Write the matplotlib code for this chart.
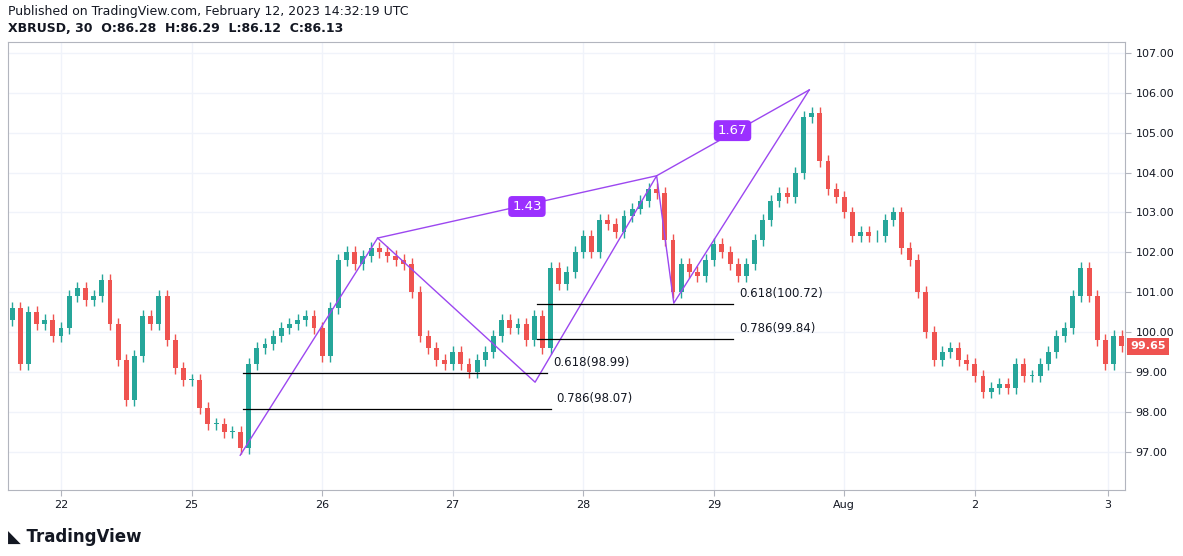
import numpy as np
import matplotlib.pyplot as plt
from matplotlib.patches import Rectangle

# hourly-ish closes (16 candles per trading day)
closes = [100.6, 99.2, 100.5, 100.2, 100.3, 99.9, 100.1, 100.9, 101.1, 100.8,
          100.9, 101.3, 100.2, 99.3, 98.3, 99.4, 100.4, 100.2, 100.9, 99.8,
          99.1, 98.8, 98.8, 98.1, 97.7, 97.7, 97.5, 97.5, 97.1, 99.2,
          99.6, 99.7, 99.9, 100.1, 100.2, 100.3, 100.4, 100.1, 99.4, 100.6,
          101.8, 102.0, 101.7, 101.9, 102.1, 102.0, 101.9, 101.8, 101.7, 101.0,
          99.9, 99.6, 99.3, 99.2, 99.5, 99.2, 99.0, 99.3, 99.5, 99.9,
          100.3, 100.1, 100.2, 99.8, 100.4, 99.6, 101.6, 101.2, 101.5, 102.0,
          102.4, 102.0, 102.8, 102.7, 102.5, 102.9, 103.1, 103.3, 103.6, 103.5,
          102.3, 101.0, 101.7, 101.5, 101.4, 101.8, 102.2, 102.0, 101.7, 101.4,
          101.7, 102.3, 102.8, 103.3, 103.5, 103.4, 104.0, 105.4, 105.5, 104.3,
          103.6, 103.4, 103.0, 102.4, 102.5, 102.4, 102.4, 102.8, 103.0, 102.1,
          101.8, 101.0, 100.0, 99.3, 99.5, 99.6, 99.3, 99.2, 98.9, 98.5,
          98.6, 98.7, 98.6, 99.2, 98.9, 98.9, 99.2, 99.5, 99.9, 100.1,
          100.9, 101.6, 100.9, 99.8, 99.2, 99.9, 99.65]
first_open = 100.3
wick = 0.15

day_labels = ['22', '25', '26', '27', '28', '29', 'Aug', '2', '3']
day_ticks = [6, 22, 38, 54, 70, 86, 102, 118, 134.3]
price_ticks = [97, 98, 99, 100, 101, 102, 103, 104, 105, 106, 107]

# harmonic pattern points (candle index, price)
pat_x = [27.96, 44.8, 64.1, 79.0, 81.1, 97.7]
pat_y = [96.92, 102.36, 98.75, 103.92, 100.73, 106.07]
ratio_labels = [(63.1, 103.15, '1.43'), (88.3, 105.05, '1.67')]

# fib levels: (x start, x end, price, label)
fibs = [(28.3, 65.6, 98.99, '0.618(98.99)'),
        (28.3, 66.0, 98.07, '0.786(98.07)'),
        (64.3, 88.4, 100.72, '0.618(100.72)'),
        (64.3, 88.4, 99.84, '0.786(99.84)')]

UP, DOWN = '#26a69a', '#ef5350'
PURPLE = '#9c47f0'

fig = plt.figure(figsize=(11.83, 5.56), dpi=100)
ax = fig.add_axes([8 / 1183, 1 - 490 / 556, (1125 - 8) / 1183, (490 - 42) / 556])

opens = [first_open] + closes[:-1]
for i, (o, c) in enumerate(zip(opens, closes)):
    col = UP if c >= o else DOWN
    ax.vlines(i, min(o, c) - wick, max(o, c) + wick, color=col, lw=1, zorder=2)
    ax.add_patch(Rectangle((i - 0.3, min(o, c)), 0.6, max(abs(c - o), 0.02),
                           color=col, zorder=3, lw=0))

ax.plot(pat_x, pat_y, color=PURPLE, lw=1, zorder=4)
ax.plot([pat_x[1], pat_x[3], pat_x[5]], [pat_y[1], pat_y[3], pat_y[5]],
        color=PURPLE, lw=1, zorder=4)
for x, y, t in ratio_labels:
    ax.text(x, y, t, color='white', fontsize=9.5, ha='center', va='center', zorder=6,
            bbox=dict(boxstyle='round,pad=0.3', fc='#9b30ff', ec='none'))

for x0, x1, p, t in fibs:
    ax.plot([x0, x1], [p, p], color='black', lw=0.9, zorder=4)
    ax.text(x1 + 0.7, p + 0.1, t, fontsize=8.5, color='#131722', va='bottom', ha='left')

ax.set_xlim(-0.5, 136.4)
ax.set_ylim(96.05, 107.27)
ax.set_xticks(day_ticks)
ax.set_xticklabels(day_labels)
ax.set_yticks(price_ticks)
ax.set_yticklabels([f'{p:.2f}' for p in price_ticks])
ax.yaxis.tick_right()
ax.tick_params(labelsize=8, colors='#131722', length=4)
ax.tick_params(axis='both', color='#b2b5be')
ax.grid(True, color='#f0f3fa', lw=1)
for s in ax.spines.values():
    s.set_color('#b2b5be')
    s.set_linewidth(0.8)

last = closes[-1]
ax.text(1.005, (last - 96.05) / (107.27 - 96.05), f'{last:.2f}', transform=ax.transAxes,
        color='white', fontsize=8, fontweight='bold', va='center', ha='left',
        bbox=dict(boxstyle='square,pad=0.3', fc=DOWN, ec='none'))

fig.text(8 / 1183, 1 - 12 / 556, 'Published on TradingView.com, February 12, 2023 14:32:19 UTC',
         fontsize=9, va='center', color='#131722')
fig.text(8 / 1183, 1 - 29 / 556, 'XBRUSD, 30  O:86.28  H:86.29  L:86.12  C:86.13',
         fontsize=9, va='center', fontweight='bold', color='#131722')
fig.text(8 / 1183, 1 - 537 / 556, '\u25e3 TradingView', fontsize=12, fontweight='bold',
         va='center', color='#131722')

fig.savefig('out.png', dpi=100)
